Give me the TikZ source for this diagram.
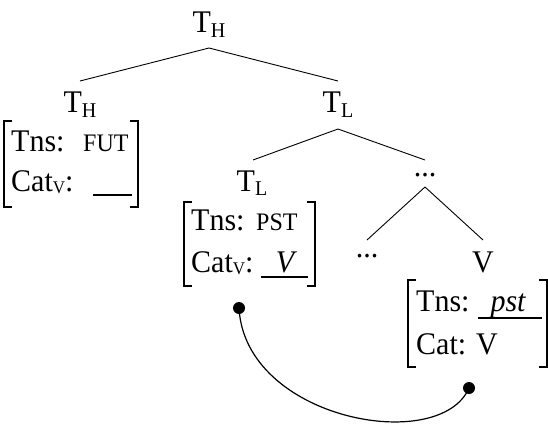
\documentclass[tikz,border=0pt]{standalone}
\usepackage{fontspec}
\setmainfont{Liberation Serif}
\usepackage{graphicx}
\newcommand\vs[1]{\scalebox{1}[1.05]{#1}}
\newcommand\subs[1]{\raisebox{-4pt}{\fontsize{20}{20}\selectfont #1}}
\newcommand\subv[1]{\raisebox{-2.5pt}{\fontsize{17}{17}\selectfont #1}}
\newcommand\scp[1]{{\fontsize{24}{24}\selectfont #1}}
\tikzset{
  lbl/.style={inner sep=0pt, anchor=base, font=\fontsize{30}{34}\selectfont},
  row/.style={inner sep=0pt, anchor=base west, font=\fontsize{30}{34}\selectfont},
  val/.style={inner sep=0pt, anchor=base, font=\fontsize{30}{34}\selectfont},
  branch/.style={line width=0.9pt},
  brk/.style={line width=1.5pt},
  uline/.style={line width=1.4pt},
  dotc/.style={circle, fill=black, inner sep=0pt, minimum size=12pt},
  link/.style={line width=1.2pt}
}
\begin{document}
\begin{tikzpicture}[x=1pt,y=1pt]
\useasboundingbox (0,0) rectangle (548,-425);
% tree labels
\node[lbl] (root) at (209,-33) {\vs{T\subs{H}}};
\node[lbl] (th) at (80,-113) {\vs{T\subs{H}}};
\node[lbl] (tl) at (338,-113) {\vs{T\subs{L}}};
\node[lbl] (tl2) at (252,-191) {\vs{T\subs{L}}};
\node[lbl] (d1) at (425,-176) {\vs{...}};
\node[lbl] (d2) at (367,-257) {\vs{...}};
\node[lbl] (v) at (483,-272) {\vs{V}};
% branches
\draw[branch] (209,-48) coordinate (rootb) -- (80,-81) coordinate (tht);
\draw[branch] (rootb) -- (338,-81) coordinate (tlt);
\draw[branch] (338,-129) coordinate (tlb) -- (253,-160) coordinate (tl2t);
\draw[branch] (tlb) -- (425,-160) coordinate (d1t);
\draw[branch] (425,-187) coordinate (d1b) -- (367,-240) coordinate (d2t);
\draw[branch] (d1b) -- (483,-240) coordinate (vt);
% matrix 1
\draw[brk] (12,-121) -- (4,-121) -- (4,-207) -- (12,-207);
\draw[brk] (130,-121) -- (138,-121) -- (138,-207) -- (130,-207);
\node[row] (m1a) at (11,-151) {\vs{Tns:}};
\node[row] (m1b) at (83,-151) {\vs{\scp{FUT}}};
\node[row] (m1c) at (11,-191) {\vs{Cat\subv{V}:}};
\draw[uline] (93,-195) -- (132,-195);
% matrix 2
\draw[brk] (192,-202) -- (184,-202) -- (184,-286) -- (192,-286);
\draw[brk] (307,-202) -- (315,-202) -- (315,-286) -- (307,-286);
\node[row] (m2a) at (191,-230) {\vs{Tns:}};
\node[row] (m2b) at (256,-230) {\vs{\scp{PST}}};
\node[row] (m2c) at (191,-272) {\vs{Cat\subv{V}:}};
\node[val] (m2d) at (285,-272) {\vs{\itshape V}};
\draw[uline] (261,-277) -- (308,-277);
% matrix 3
\draw[brk] (416,-280) -- (408,-280) -- (408,-367) -- (416,-367);
\draw[brk] (539,-280) -- (547,-280) -- (547,-367) -- (539,-367);
\node[row] (m3a) at (416,-311) {\vs{Tns:}};
\node[val] (m3b) at (508,-311) {\vs{\itshape pst}};
\draw[uline] (478,-318) -- (542,-318);
\node[row] (m3c) at (416,-354) {\vs{Cat: V}};
% link
\node[dotc] (p1) at (239,-308) {};
\node[dotc] (p2) at (469,-388) {};
\draw[link] (p1.center) .. controls (245,-420) and (440,-455) .. (p2.center);
\end{tikzpicture}
\end{document}
